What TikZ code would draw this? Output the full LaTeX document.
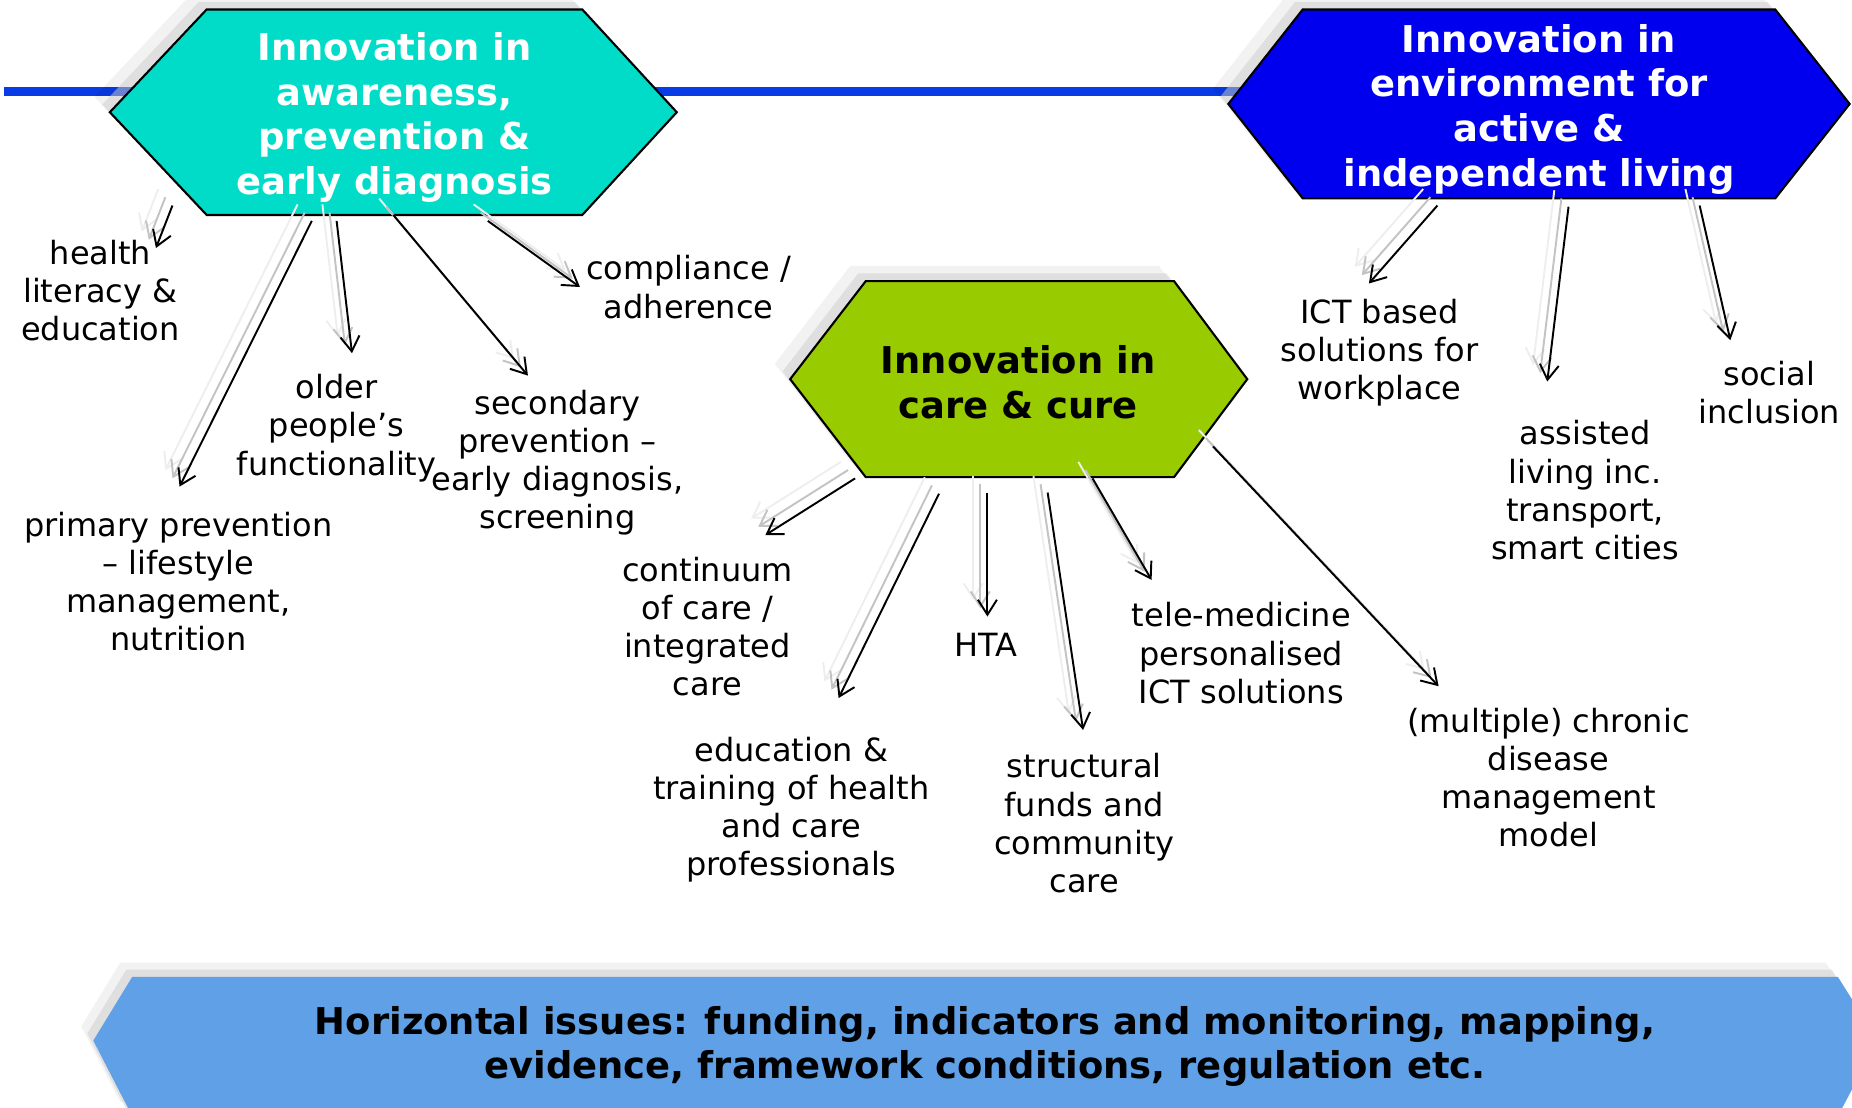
\documentclass[tikz,border=0pt]{standalone}
\usepackage{fontspec}
\setmainfont{DejaVu Sans}
\usetikzlibrary{arrows.meta}
\definecolor{hexteal}{RGB}{0,220,200}
\definecolor{hexblue}{RGB}{0,0,238}
\definecolor{hexgreen}{RGB}{153,204,0}
\definecolor{bannerblue}{RGB}{95,160,230}
\definecolor{lineblue}{RGB}{10,60,230}
\definecolor{shadA}{RGB}{195,195,195}
\definecolor{shadB}{RGB}{238,238,238}
\newcommand\myarrow[2]{%
  \draw[arr, draw=shadB, transform canvas={shift={(-0.142cm,0.165cm)}}] (#1) -- (#2);
  \draw[arr, draw=shadA, transform canvas={shift={(-0.071cm,0.083cm)}}] (#1) -- (#2);
  \draw[arr] (#1) -- (#2);}
\begin{document}
\begin{tikzpicture}[x=0.011811cm,y=-0.011811cm,
  hexa/.style={draw=black, line width=0.6pt, line join=miter},
  shA/.style={fill=gray!40, fill opacity=0.5},
  shB/.style={fill=black, fill opacity=0.05},
  title/.style={font=\bfseries\fontsize{10.5}{12.75}\selectfont, align=center, inner sep=0pt},
  lbl/.style={font=\fontsize{9.1}{10.85}\selectfont, align=center, inner sep=0pt},
  arr/.style={line width=0.55pt, -{Straight Barb[length=1.5mm,width=1.9mm]}},
]
\path[use as bounding box] (0,0) rectangle (1568,938);
\clip (0,0) rectangle (1568,938);

% horizontal blue line
\fill[lineblue] (3,73.5) rectangle (1060,81);

% ---- hexagon A (teal)
\foreach \d/\s in {13/shB, 6.5/shA}{
  \path[\s, shift={(-\d,-\d)}] (93,95) -- (175,8) -- (493,8) -- (573,95) -- (493,182) -- (175,182) -- cycle;}
\path[hexa, fill=hexteal] (93,95) -- (175,8) -- (493,8) -- (573,95) -- (493,182) -- (175,182) -- cycle;
\node[title, text=white] (tA) at (334,99.5) {Innovation in\\awareness,\\prevention \&\\early diagnosis};

% ---- hexagon C (blue)
\foreach \d/\s in {13/shB, 6.5/shA}{
  \path[\s, shift={(-\d,-\d)}] (1040,88) -- (1103,8) -- (1503,8) -- (1566,88) -- (1503,168) -- (1103,168) -- cycle;}
\path[hexa, fill=hexblue] (1040,88) -- (1103,8) -- (1503,8) -- (1566,88) -- (1503,168) -- (1103,168) -- cycle;
\node[title, text=white] (tC) at (1303,92.5) {Innovation in\\environment for\\active \&\\independent living};

% ---- hexagon B (green)
\foreach \d/\s in {13/shB, 6.5/shA}{
  \path[\s, shift={(-\d,-\d)}] (669,321) -- (733,238) -- (994,238) -- (1056,321) -- (994,404) -- (733,404) -- cycle;}
\path[hexa, fill=hexgreen] (669,321) -- (733,238) -- (994,238) -- (1056,321) -- (994,404) -- (733,404) -- cycle;
\node[title, text=black] (tB) at (862,323.5) {Innovation in\\care \& cure};

% ---- banner
\foreach \d/\s in {12/shB, 6/shA}{
  \path[\s, shift={(-\d*0.85,-\d)}] (79,881) -- (112,827) -- (1556,827) -- (1590,881) -- (1556,945) -- (112,945) -- cycle;}
\path[fill=bannerblue] (79,881) -- (112,827) -- (1556,827) -- (1590,881) -- (1556,945) -- (112,945) -- cycle;
\node[title, text=black] (ban) at (834,886) {Horizontal issues: funding, indicators and monitoring, mapping,\\evidence, framework conditions, regulation etc.};

% ---- labels
\node[lbl] (health) at (85,246) {health\\literacy \&\\education};
\node[lbl] (older) at (285,362.5) {older\\people’s\\functionality};
\node[lbl] (compl) at (583,243) {compliance /\\adherence};
\node[lbl] (second) at (472,391.5) {secondary\\prevention –\\early diagnosis,\\screening};
\node[lbl] (primary) at (151,492.5) {primary prevention\\– lifestyle\\management,\\nutrition};
\node[lbl] (contin) at (599,530.5) {continuum\\of care /\\integrated\\care};
\node[lbl] (educ) at (670,685.5) {education \&\\training of health\\and care\\professionals};
\node[lbl] (hta) at (835,546) {HTA};
\node[lbl] (struct) at (918,697) {structural\\funds and\\community\\care};
\node[lbl] (tele) at (1051,553) {tele-medicine\\personalised\\ICT solutions};
\node[lbl] (chronic) at (1311,658.5) {(multiple) chronic\\disease\\management\\model};
\node[lbl] (ict) at (1168,298.5) {ICT based\\solutions for\\workplace};
\node[lbl] (assist) at (1342,415) {assisted\\living inc.\\transport,\\smart cities};
\node[lbl] (social) at (1498,332.5) {social\\inclusion};

% ---- arrow coordinates
\coordinate (s1) at (146,174);  \coordinate (e1) at (132,210);
\coordinate (s2) at (264,187);  \coordinate (e2) at (152,412);
\coordinate (s3) at (285,187);  \coordinate (e3) at (298,299);
\coordinate (s4) at (333,182);  \coordinate (e4) at (447,318);
\coordinate (s5) at (413,187);  \coordinate (e5) at (491,243);
\coordinate (s6) at (724,405);  \coordinate (e6) at (648,453);
\coordinate (s7) at (795,418);  \coordinate (e7) at (710,591);
\coordinate (s8) at (836,417);  \coordinate (e8) at (836,522);
\coordinate (s9) at (887,417);  \coordinate (e9) at (917,618);
\coordinate (s10) at (925,405); \coordinate (e10) at (975,491);
\coordinate (s11) at (1027,378); \coordinate (e11) at (1218,581);
\coordinate (s12) at (1217,174); \coordinate (e12) at (1159,240);
\coordinate (s13) at (1328,175); \coordinate (e13) at (1310,323);
\coordinate (s14) at (1439,174); \coordinate (e14) at (1465,288);

\myarrow{s1}{e1}
\myarrow{s2}{e2}
\myarrow{s3}{e3}
\myarrow{s4}{e4}
\myarrow{s5}{e5}
\myarrow{s6}{e6}
\myarrow{s7}{e7}
\myarrow{s8}{e8}
\myarrow{s9}{e9}
\myarrow{s10}{e10}
\myarrow{s11}{e11}
\myarrow{s12}{e12}
\myarrow{s13}{e13}
\myarrow{s14}{e14}
\end{tikzpicture}
\end{document}
